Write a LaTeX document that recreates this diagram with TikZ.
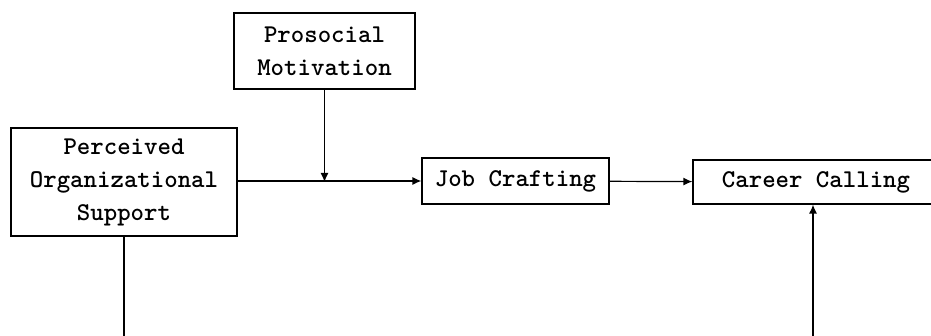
\documentclass[tikz,border=0pt]{standalone}
\usetikzlibrary{arrows.meta,positioning}

\begin{document}
\begin{tikzpicture}[x=0.5pt,y=-0.5pt,>={Latex[length=4.5pt,width=4pt]},line width=0.6pt,
	every node/.style={font=\fontsize{12.8}{16.5}\selectfont\ttfamily\bfseries},
	var/.style={draw,line width=0.6pt,align=center,inner sep=0pt}]

	\useasboundingbox (0,0) rectangle (931,336);

	\node [var,minimum width=90.5pt,minimum height=38pt] at (324.5,51)	(p_m)	{Prosocial\\Motivation};
	\node [var,minimum width=113pt,minimum height=54pt] at (124,182)		(p_o)	{Perceived\\Organizational\\Support};
	\node [var,minimum width=93.5pt,minimum height=23pt] at (515.5,181)	(j_c)	{Job Crafting};
	\node [var,minimum width=123pt,minimum height=22pt] at (816,182)		(c_c)	{Career Calling};

	\coordinate (m_p) at (p_m.south |- p_o.east);
	\coordinate (b_l) at (124,345);
	\coordinate (b_r) at (813,345);

	\path [->]	(p_o.east |- j_c.west) edge	(j_c)
				(p_m) edge					(m_p)
				(j_c) edge					(c_c)
				(b_r) edge					(b_r |- c_c.south);
	\draw (p_o) -- (b_l);

\end{tikzpicture}
\end{document}
